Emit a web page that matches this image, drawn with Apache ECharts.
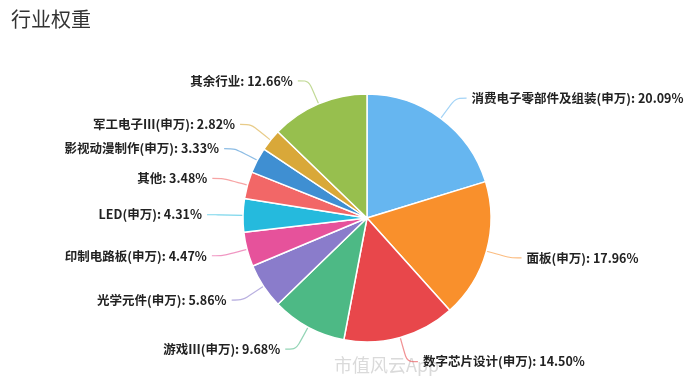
<!DOCTYPE html>
<html><head><meta charset="utf-8">
<script src="https://cdn.jsdelivr.net/npm/echarts@6/dist/echarts.min.js"></script>
<style>html,body{margin:0;padding:0;background:#fff}#c{width:700px;height:392px}</style>
</head><body><div id="c"></div>
<script>
const categories = ['消费电子零部件及组装(申万)','面板(申万)','数字芯片设计(申万)','游戏Ⅲ(申万)','光学元件(申万)','印制电路板(申万)','LED(申万)','其他','影视动漫制作(申万)','军工电子Ⅲ(申万)','其余行业'];
const weights = [20.09,17.96,14.50,9.68,5.86,4.47,4.31,3.48,3.33,2.82,12.66];
const colors = ['#66b6f0','#f9902c','#e8474b','#4db985','#8a7ccb','#e6529b','#25badd','#f26767','#3f8fd2','#d9a839','#97bf4e'];

const chart = echarts.init(document.getElementById('c'));
chart.setOption({
  animation:false,
  title:{text:'行业权重',left:6,top:4,textStyle:{fontSize:20,fontWeight:'normal',color:'#333',fontFamily:'Noto Sans CJK SC'}},
  graphic:[{type:'text',left:334,top:356,style:{text:'市值风云App',fill:'#dadada',font:'18px "Noto Sans CJK SC"'}}],
  series:[{
    type:'pie',
    center:[367,218],
    radius:[0,124],
    startAngle:90,
    clockwise:true,
    data:categories.map((n,i)=>({name:n,value:weights[i],itemStyle:{color:colors[i]}})),
    itemStyle:{borderColor:'#fff',borderWidth:1.5},
    label:{formatter:p=>p.name+': '+p.value.toFixed(2)+'%',color:'#222',fontSize:12.5,fontWeight:'bold',fontFamily:'Noto Sans CJK SC'},
    labelLine:{length:25,length2:11,smooth:0.3,lineStyle:{opacity:0.6,width:1.2}}
  }]
});
</script></body></html>
